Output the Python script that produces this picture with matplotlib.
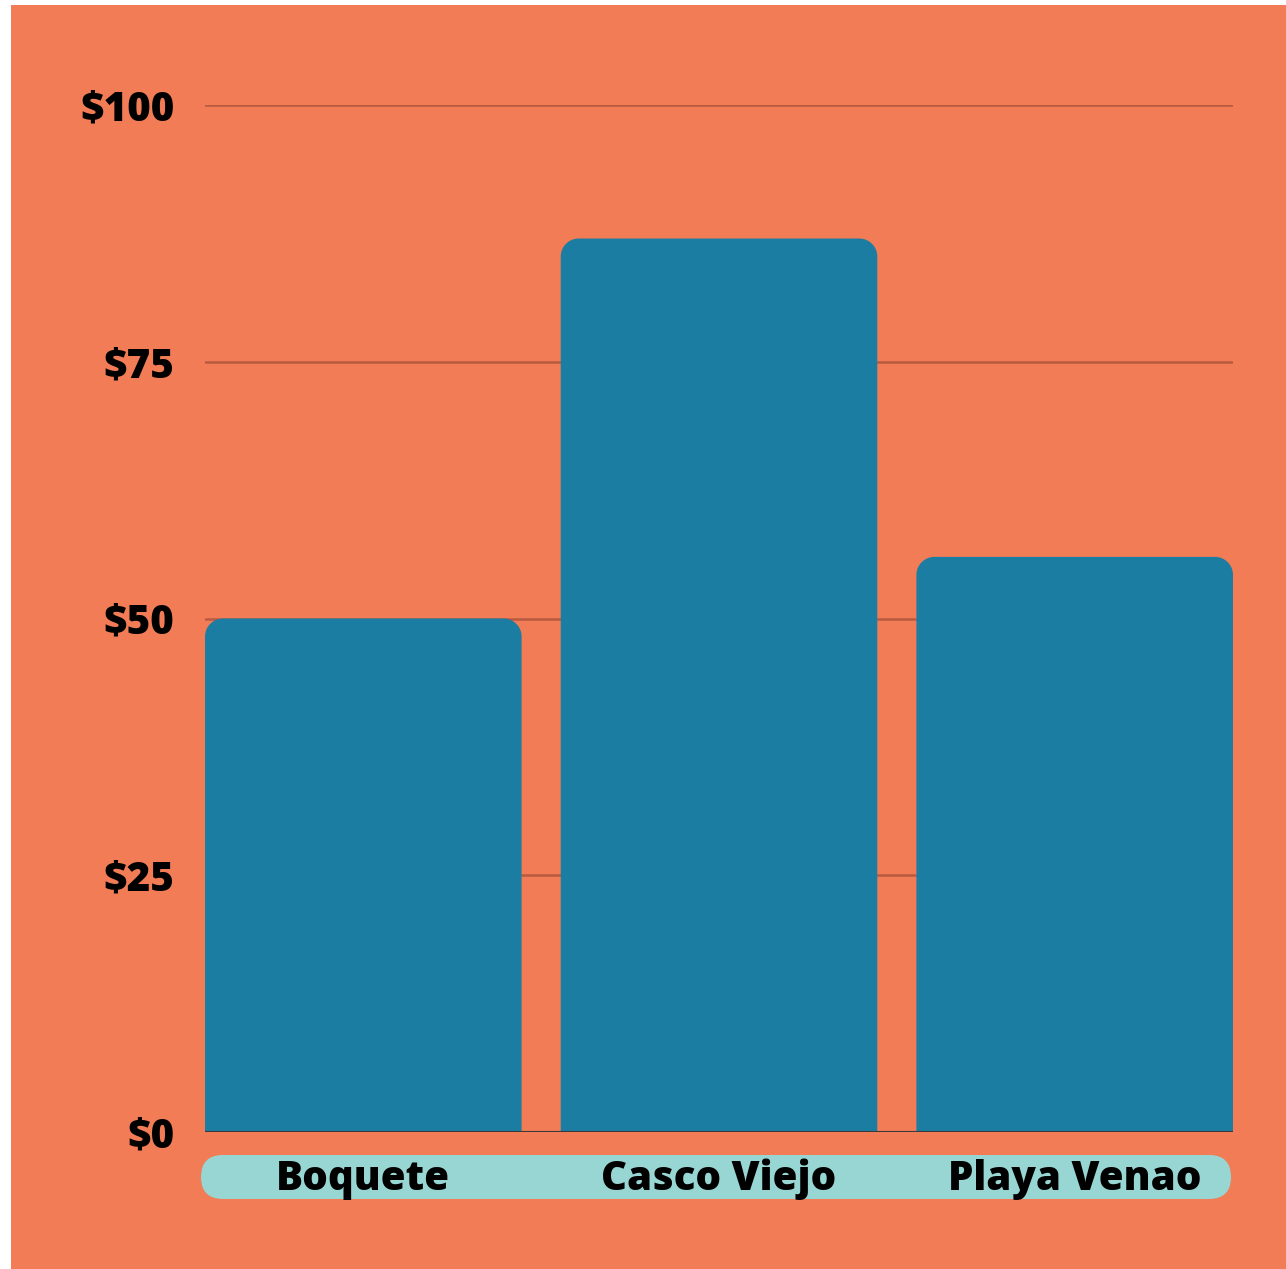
import matplotlib.pyplot as plt
import numpy as np
from matplotlib.path import Path
from matplotlib.patches import PathPatch, FancyBboxPatch, Rectangle
from matplotlib.transforms import blended_transform_factory, IdentityTransform

places = ["Boquete", "Casco Viejo", "Playa Venao"]
prices = [50, 87, 56]
yticks = [0, 25, 50, 75, 100]
ytick_labels = ["$0", "$25", "$50", "$75", "$100"]

BG = "#F27C55"
BAR = "#1B7DA2"
STRIP = "#97D6D3"
GRID = "#B85A42"

plt.rcParams['font.family'] = ['Open Sans', 'DejaVu Sans']


def rounded_top(x0, x1, y0, y1, rx, ry):
    # barra con las esquinas de arriba redondeadas
    k = 0.5523
    ry = min(ry, (y1 - y0))
    verts = [
        (x0, y0), (x0, y1 - ry),
        (x0, y1 - ry + k * ry), (x0 + rx - k * rx, y1), (x0 + rx, y1),
        (x1 - rx, y1),
        (x1 - rx + k * rx, y1), (x1, y1 - ry + k * ry), (x1, y1 - ry),
        (x1, y0), (x0, y0),
    ]
    codes = [Path.MOVETO, Path.LINETO,
             Path.CURVE4, Path.CURVE4, Path.CURVE4,
             Path.LINETO,
             Path.CURVE4, Path.CURVE4, Path.CURVE4,
             Path.LINETO, Path.CLOSEPOLY]
    return Path(verts, codes)


fig = plt.figure(figsize=(12.86, 12.69), dpi=100)
fig.patch.set_facecolor("white")
fig.add_artist(Rectangle((11 / 1286, 0), 1 - 11 / 1286, 1 - 5 / 1269,
                         transform=fig.transFigure, facecolor=BG, edgecolor="none", zorder=-2))

# franja de las etiquetas
fig.add_artist(FancyBboxPatch((201, 1269 - 1199), 1030, 44,
                              boxstyle="round,pad=0,rounding_size=22",
                              transform=IdentityTransform(),
                              facecolor=STRIP, edgecolor="none", zorder=-1))

ax = fig.add_axes([205 / 1286, 137 / 1269, 1028 / 1286, 1027 / 1269])
ax.set_facecolor("none")

width = 0.89
x = np.arange(len(places))
bars = ax.bar(x, prices, width=width, color=BAR, zorder=2)
ax.set_xlim(-width / 2, len(places) - 1 + width / 2)
ax.set_ylim(0, 100)

# cambiar las barras por unas con esquinas redondeadas
rx = 18 / 355.5
ry = 18 / 10.27
for b in bars:
    x0, y0 = b.get_x(), b.get_y()
    x1, y1 = x0 + b.get_width(), y0 + b.get_height()
    b.set_visible(False)
    ax.add_patch(PathPatch(rounded_top(x0, x1, y0, y1, rx, ry),
                           facecolor=BAR, edgecolor="none", zorder=2))

for t in yticks[1:]:
    ax.axhline(t, color=GRID, lw=1.8, zorder=1)
ax.axhline(0, color="#3a3a3a", lw=1.5, zorder=3)

ax.set_yticks(yticks)
ax.set_yticklabels(ytick_labels, fontsize=29, fontweight=800)
ax.tick_params(axis="y", length=0, pad=22)
ax.set_xticks([])
for s in ax.spines.values():
    s.set_visible(False)

tr = blended_transform_factory(ax.transData, ax.transAxes)
for xi, name in zip(x, places):
    ax.text(xi, -58 / 1027, name, transform=tr, ha="center", va="baseline",
            fontsize=29, fontweight=800, clip_on=False, zorder=5)

fig.savefig("out.png", dpi=100)
